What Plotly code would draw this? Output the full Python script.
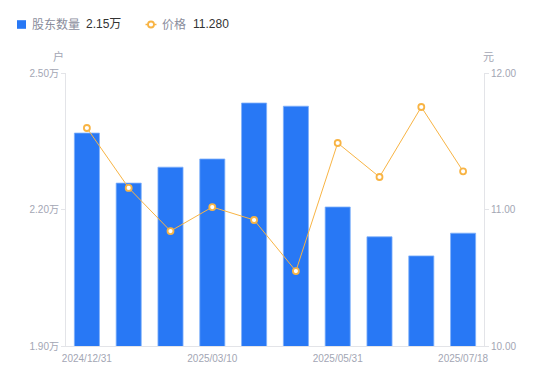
import plotly.graph_objects as go

dates = ["2024/12/31", "2025/01/20", "2025/02/20", "2025/03/10", "2025/03/31",
         "2025/04/30", "2025/05/31", "2025/06/20", "2025/06/30", "2025/07/18"]
holders = [2.368, 2.258, 2.293, 2.311, 2.434, 2.427, 2.2055, 2.140, 2.098, 2.148]  # 万户
prices = [11.597, 11.158, 10.842, 11.018, 10.923, 10.549, 11.487, 11.238, 11.751, 11.28]

left_ticks = [1.9, 2.2, 2.5]
left_text = ["1.90万", "2.20万", "2.50万"]
right_ticks = [10, 11, 12]
right_text = ["10.00", "11.00", "12.00"]
x_ticks = ["2024/12/31", "2025/03/10", "2025/05/31", "2025/07/18"]

BLUE = "#2878f5"
ORANGE = "#f8b444"
GRAY = "#a3a6b4"
LEG_GRAY = "#8a8d9c"
FONT = "Liberation Sans, Noto Sans CJK SC, sans-serif"

# plot area in screen pixels (page body has an 8px margin)
PX0, PX1, PY0, PY1 = 66, 484, 73, 346


def px(x):
    return (x - PX0) / (PX1 - PX0)


def py(y):
    return (PY1 - y) / (PY1 - PY0)


fig = go.Figure()
fig.add_trace(go.Bar(x=dates, y=holders,
                     marker=dict(color=BLUE, line=dict(color="#7fb0fa", width=0.8)),
                     width=0.6, yaxis="y", showlegend=False))
fig.add_trace(go.Scatter(x=dates, y=prices, yaxis="y2", mode="lines+markers",
                         line=dict(color=ORANGE, width=1),
                         marker=dict(symbol="circle", size=6, color="white",
                                     line=dict(color=ORANGE, width=1.8)),
                         showlegend=False))

fig.update_layout(
    width=550, height=381,
    margin=dict(l=58, r=74, t=65, b=43),
    paper_bgcolor="white", plot_bgcolor="white",
    font=dict(family=FONT, color=GRAY, size=10),
    xaxis=dict(type="category", range=[-0.5, len(dates) - 0.5], tickmode="array",
               tickvals=x_ticks, ticktext=x_ticks,
               showline=True, linecolor="#e3e4e8", linewidth=1, ticks="", showgrid=False,
               ticklabelstandoff=3,
               tickfont=dict(size=10, color=GRAY), automargin=False),
    yaxis=dict(range=[1.9, 2.5], tickmode="array", tickvals=left_ticks, ticktext=left_text,
               showline=True, linecolor="#e3e4e8", linewidth=1, ticks="outside", ticklen=4,
               tickcolor="#e3e4e8", showgrid=False, zeroline=False, automargin=False,
               tickfont=dict(size=10, color=GRAY)),
    yaxis2=dict(range=[10, 12], overlaying="y", side="right", tickmode="array",
                tickvals=right_ticks, ticktext=right_text,
                showline=True, linecolor="#e3e4e8", linewidth=1, ticks="outside", ticklen=4,
                tickcolor="#e3e4e8", showgrid=False, zeroline=False, automargin=False,
                tickfont=dict(size=10, color=GRAY)),
)

LY = 24.5
# legend drawn manually
fig.add_shape(type="rect", xref="paper", yref="paper", x0=px(17), x1=px(26),
              y0=py(28.8), y1=py(20.2), fillcolor=BLUE, line=dict(width=0))
fig.add_annotation(xref="paper", yref="paper", x=px(30), y=py(LY), xanchor="left", yanchor="middle",
                   text="股东数量", showarrow=False, font=dict(size=12, color=LEG_GRAY, family=FONT))
fig.add_annotation(xref="paper", yref="paper", x=px(84), y=py(LY), xanchor="left", yanchor="middle",
                   text="2.15万", showarrow=False, font=dict(size=12, color="#333333", family=FONT))
fig.add_shape(type="line", xref="paper", yref="paper", x0=px(145.5), x1=px(156.5), y0=py(LY), y1=py(LY),
              line=dict(color=ORANGE, width=1.5))
fig.add_shape(type="circle", xref="paper", yref="paper", x0=px(148), x1=px(154), y0=py(LY + 3), y1=py(LY - 3),
              fillcolor="white", line=dict(color=ORANGE, width=1.8))
fig.add_annotation(xref="paper", yref="paper", x=px(160), y=py(LY), xanchor="left", yanchor="middle",
                   text="价格", showarrow=False, font=dict(size=12, color=LEG_GRAY, family=FONT))
fig.add_annotation(xref="paper", yref="paper", x=px(191), y=py(LY), xanchor="left", yanchor="middle",
                   text="11.280", showarrow=False, font=dict(size=12, color="#333333", family=FONT))

# unit labels
fig.add_annotation(xref="paper", yref="paper", x=px(58), y=py(56.5), xanchor="center", yanchor="middle",
                   text="户", showarrow=False, font=dict(size=11, color=GRAY, family=FONT))
fig.add_annotation(xref="paper", yref="paper", x=px(489), y=py(56.5), xanchor="center", yanchor="middle",
                   text="元", showarrow=False, font=dict(size=11, color=GRAY, family=FONT))

fig.write_html("out.html")
